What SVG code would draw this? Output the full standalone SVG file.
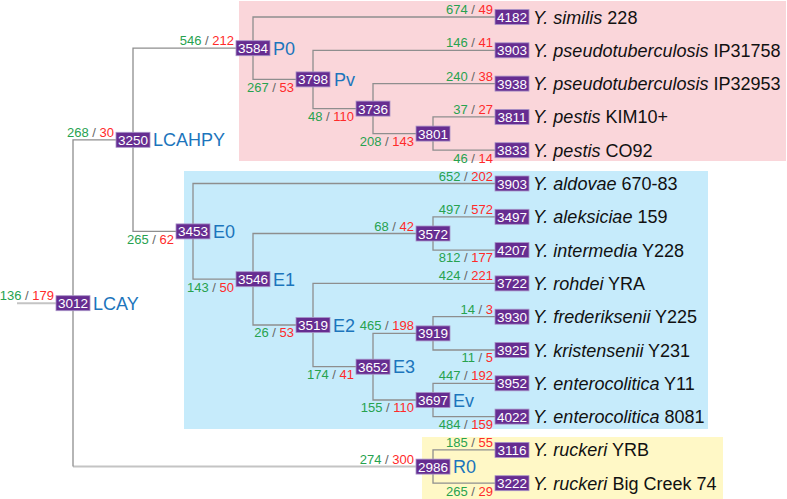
<svg xmlns="http://www.w3.org/2000/svg" width="787" height="499" viewBox="0 0 787 499">
<style>
.ln{stroke:#8e8e8e;stroke-width:1.3;fill:none}
.ln .lt{stroke:#c4c4c4;stroke-width:2}
.nb{fill:#662d91;stroke:#a994c8;stroke-width:0.8}
.nt{font-family:"Liberation Sans",Arial,sans-serif;font-size:13.5px;fill:#fff;text-anchor:middle}
.cl{font-family:"Liberation Sans",Arial,sans-serif;font-size:18px;fill:#1c75bc}
.lf{font-family:"Liberation Sans",Arial,sans-serif;font-size:18px;fill:#111}
.lf tspan{font-style:italic}
.bl{font-family:"Liberation Sans",Arial,sans-serif;font-size:13px;text-anchor:end}
.g{fill:#27a24f}.r{fill:#ff2a2a}.s{fill:#666}
</style>
<rect width="787" height="499" fill="#fff"/>
<g id="backgrounds">
<rect x="239" y="1" width="547" height="160" fill="#fad6da"/>
<rect x="184" y="171" width="524" height="258" fill="#c6ebfb"/>
<rect x="422" y="437" width="301" height="62" fill="#fff8c6"/>
</g>
<g id="connectors" class="ln">
<path class="lt" d="M17,303.2H73"/>
<path class="lt" d="M73,466.6H433"/>
<path d="M133,139.8H73V466.6"/>
<path d="M253,48.2H133V231.4H193"/>
<path d="M495,17H253V79.4H313"/>
<path d="M495,50.3H313V108.6H373"/>
<path d="M495,83.6H373V133.6H433"/>
<path d="M495,116.9H433V150.2H495"/>
<path d="M495,183.5H193V279.2H253"/>
<path d="M433,233.5H253V325H313"/>
<path d="M495,216.8H433V250.1H495"/>
<path d="M495,283.4H313V366.7H373"/>
<path d="M433,333.4H373V400H433"/>
<path d="M495,316.7H433V350H495"/>
<path d="M495,383.3H433V416.6H495"/>
<path d="M495,449.9H433V483.2H495"/>
</g>
<g id="branch-labels" class="bl">
<text x="54" y="300.2"><tspan class="g">136</tspan><tspan class="s"> / </tspan><tspan class="r">179</tspan></text>
<text x="114" y="136.8"><tspan class="g">268</tspan><tspan class="s"> / </tspan><tspan class="r">30</tspan></text>
<text x="414" y="463.6"><tspan class="g">274</tspan><tspan class="s"> / </tspan><tspan class="r">300</tspan></text>
<text x="234" y="45.2"><tspan class="g">546</tspan><tspan class="s"> / </tspan><tspan class="r">212</tspan></text>
<text x="174" y="243.6"><tspan class="g">265</tspan><tspan class="s"> / </tspan><tspan class="r">62</tspan></text>
<text x="493" y="14"><tspan class="g">674</tspan><tspan class="s"> / </tspan><tspan class="r">49</tspan></text>
<text x="294" y="91.7"><tspan class="g">267</tspan><tspan class="s"> / </tspan><tspan class="r">53</tspan></text>
<text x="493" y="47.3"><tspan class="g">146</tspan><tspan class="s"> / </tspan><tspan class="r">41</tspan></text>
<text x="354" y="120.9"><tspan class="g">48</tspan><tspan class="s"> / </tspan><tspan class="r">110</tspan></text>
<text x="493" y="80.6"><tspan class="g">240</tspan><tspan class="s"> / </tspan><tspan class="r">38</tspan></text>
<text x="414" y="145.9"><tspan class="g">208</tspan><tspan class="s"> / </tspan><tspan class="r">143</tspan></text>
<text x="493" y="113.9"><tspan class="g">37</tspan><tspan class="s"> / </tspan><tspan class="r">27</tspan></text>
<text x="493" y="162.5"><tspan class="g">46</tspan><tspan class="s"> / </tspan><tspan class="r">14</tspan></text>
<text x="493" y="180.5"><tspan class="g">652</tspan><tspan class="s"> / </tspan><tspan class="r">202</tspan></text>
<text x="234" y="291.5"><tspan class="g">143</tspan><tspan class="s"> / </tspan><tspan class="r">50</tspan></text>
<text x="414" y="230.5"><tspan class="g">68</tspan><tspan class="s"> / </tspan><tspan class="r">42</tspan></text>
<text x="493" y="213.8"><tspan class="g">497</tspan><tspan class="s"> / </tspan><tspan class="r">572</tspan></text>
<text x="493" y="262.4"><tspan class="g">812</tspan><tspan class="s"> / </tspan><tspan class="r">177</tspan></text>
<text x="294" y="337.3"><tspan class="g">26</tspan><tspan class="s"> / </tspan><tspan class="r">53</tspan></text>
<text x="493" y="280.4"><tspan class="g">424</tspan><tspan class="s"> / </tspan><tspan class="r">221</tspan></text>
<text x="354" y="379"><tspan class="g">174</tspan><tspan class="s"> / </tspan><tspan class="r">41</tspan></text>
<text x="414" y="330.4"><tspan class="g">465</tspan><tspan class="s"> / </tspan><tspan class="r">198</tspan></text>
<text x="493" y="313.7"><tspan class="g">14</tspan><tspan class="s"> / </tspan><tspan class="r">3</tspan></text>
<text x="493" y="362.3"><tspan class="g">11</tspan><tspan class="s"> / </tspan><tspan class="r">5</tspan></text>
<text x="414" y="412.3"><tspan class="g">155</tspan><tspan class="s"> / </tspan><tspan class="r">110</tspan></text>
<text x="493" y="380.3"><tspan class="g">447</tspan><tspan class="s"> / </tspan><tspan class="r">192</tspan></text>
<text x="493" y="428.9"><tspan class="g">484</tspan><tspan class="s"> / </tspan><tspan class="r">159</tspan></text>
<text x="493" y="446.9"><tspan class="g">185</tspan><tspan class="s"> / </tspan><tspan class="r">55</tspan></text>
<text x="493" y="495.5"><tspan class="g">265</tspan><tspan class="s"> / </tspan><tspan class="r">29</tspan></text>
</g>
<g id="node-LCAY"><rect class="nb" x="56" y="295.7" width="34" height="15"/><text class="nt" x="73" y="308.2">3012</text><text class="cl" x="93" y="309.7">LCAY</text></g>
<g id="node-LCAHPY"><rect class="nb" x="116" y="132.3" width="34" height="15"/><text class="nt" x="133" y="144.8">3250</text><text class="cl" x="153" y="146.3">LCAHPY</text></g>
<g id="node-P0"><rect class="nb" x="236" y="40.7" width="34" height="15"/><text class="nt" x="253" y="53.2">3584</text><text class="cl" x="273" y="54.7">P0</text></g>
<g id="node-Pv"><rect class="nb" x="296" y="71.9" width="34" height="15"/><text class="nt" x="313" y="84.4">3798</text><text class="cl" x="334" y="85.9">Pv</text></g>
<g id="node-3736"><rect class="nb" x="356" y="101.1" width="34" height="15"/><text class="nt" x="373" y="113.6">3736</text></g>
<g id="node-3801"><rect class="nb" x="416" y="126.1" width="34" height="15"/><text class="nt" x="433" y="138.6">3801</text></g>
<g id="node-E0"><rect class="nb" x="176" y="223.9" width="34" height="15"/><text class="nt" x="193" y="236.4">3453</text><text class="cl" x="213" y="237.9">E0</text></g>
<g id="node-E1"><rect class="nb" x="236" y="271.7" width="34" height="15"/><text class="nt" x="253" y="284.2">3546</text><text class="cl" x="273" y="285.7">E1</text></g>
<g id="node-3572"><rect class="nb" x="416" y="226" width="34" height="15"/><text class="nt" x="433" y="238.5">3572</text></g>
<g id="node-E2"><rect class="nb" x="296" y="317.5" width="34" height="15"/><text class="nt" x="313" y="330">3519</text><text class="cl" x="333" y="331.5">E2</text></g>
<g id="node-E3"><rect class="nb" x="356" y="359.2" width="34" height="15"/><text class="nt" x="373" y="371.7">3652</text><text class="cl" x="393" y="373.2">E3</text></g>
<g id="node-3919"><rect class="nb" x="416" y="325.9" width="34" height="15"/><text class="nt" x="433" y="338.4">3919</text></g>
<g id="node-Ev"><rect class="nb" x="416" y="392.5" width="34" height="15"/><text class="nt" x="433" y="405">3697</text><text class="cl" x="453" y="406.5">Ev</text></g>
<g id="node-R0"><rect class="nb" x="416" y="459.1" width="34" height="15"/><text class="nt" x="433" y="471.6">2986</text><text class="cl" x="453" y="473.1">R0</text></g>
<g id="leaf-similis"><rect class="nb" x="495" y="9.5" width="34" height="15"/><text class="nt" x="512" y="22">4182</text><text class="lf" x="533" y="23.5"><tspan>Y. similis</tspan> 228</text></g>
<g id="leaf-pstb-IP31758"><rect class="nb" x="495" y="42.8" width="34" height="15"/><text class="nt" x="512" y="55.3">3903</text><text class="lf" x="533" y="56.8"><tspan>Y. pseudotuberculosis</tspan> IP31758</text></g>
<g id="leaf-pstb-IP32953"><rect class="nb" x="495" y="76.1" width="34" height="15"/><text class="nt" x="512" y="88.6">3938</text><text class="lf" x="533" y="90.1"><tspan>Y. pseudotuberculosis</tspan> IP32953</text></g>
<g id="leaf-pestis-KIM"><rect class="nb" x="495" y="109.4" width="34" height="15"/><text class="nt" x="512" y="121.9">3811</text><text class="lf" x="533" y="123.4"><tspan>Y. pestis</tspan> KIM10+</text></g>
<g id="leaf-pestis-CO92"><rect class="nb" x="495" y="142.7" width="34" height="15"/><text class="nt" x="512" y="155.2">3833</text><text class="lf" x="533" y="156.7"><tspan>Y. pestis</tspan> CO92</text></g>
<g id="leaf-aldovae"><rect class="nb" x="495" y="176" width="34" height="15"/><text class="nt" x="512" y="188.5">3903</text><text class="lf" x="533" y="190"><tspan>Y. aldovae</tspan> 670-83</text></g>
<g id="leaf-aleksiciae"><rect class="nb" x="495" y="209.3" width="34" height="15"/><text class="nt" x="512" y="221.8">3497</text><text class="lf" x="533" y="223.3"><tspan>Y. aleksiciae</tspan> 159</text></g>
<g id="leaf-intermedia"><rect class="nb" x="495" y="242.6" width="34" height="15"/><text class="nt" x="512" y="255.1">4207</text><text class="lf" x="533" y="256.6"><tspan>Y. intermedia</tspan> Y228</text></g>
<g id="leaf-rohdei"><rect class="nb" x="495" y="275.9" width="34" height="15"/><text class="nt" x="512" y="288.4">3722</text><text class="lf" x="533" y="289.9"><tspan>Y. rohdei</tspan> YRA</text></g>
<g id="leaf-frederiksenii"><rect class="nb" x="495" y="309.2" width="34" height="15"/><text class="nt" x="512" y="321.7">3930</text><text class="lf" x="533" y="323.2"><tspan>Y. frederiksenii</tspan> Y225</text></g>
<g id="leaf-kristensenii"><rect class="nb" x="495" y="342.5" width="34" height="15"/><text class="nt" x="512" y="355">3925</text><text class="lf" x="533" y="356.5"><tspan>Y. kristensenii</tspan> Y231</text></g>
<g id="leaf-entero-Y11"><rect class="nb" x="495" y="375.8" width="34" height="15"/><text class="nt" x="512" y="388.3">3952</text><text class="lf" x="533" y="389.8"><tspan>Y. enterocolitica</tspan> Y11</text></g>
<g id="leaf-entero-8081"><rect class="nb" x="495" y="409.1" width="34" height="15"/><text class="nt" x="512" y="421.6">4022</text><text class="lf" x="533" y="423.1"><tspan>Y. enterocolitica</tspan> 8081</text></g>
<g id="leaf-ruckeri-YRB"><rect class="nb" x="495" y="442.4" width="34" height="15"/><text class="nt" x="512" y="454.9">3116</text><text class="lf" x="533" y="456.4"><tspan>Y. ruckeri</tspan> YRB</text></g>
<g id="leaf-ruckeri-BC74"><rect class="nb" x="495" y="475.7" width="34" height="15"/><text class="nt" x="512" y="488.2">3222</text><text class="lf" x="533" y="489.7"><tspan>Y. ruckeri</tspan> Big Creek 74</text></g>
</svg>
